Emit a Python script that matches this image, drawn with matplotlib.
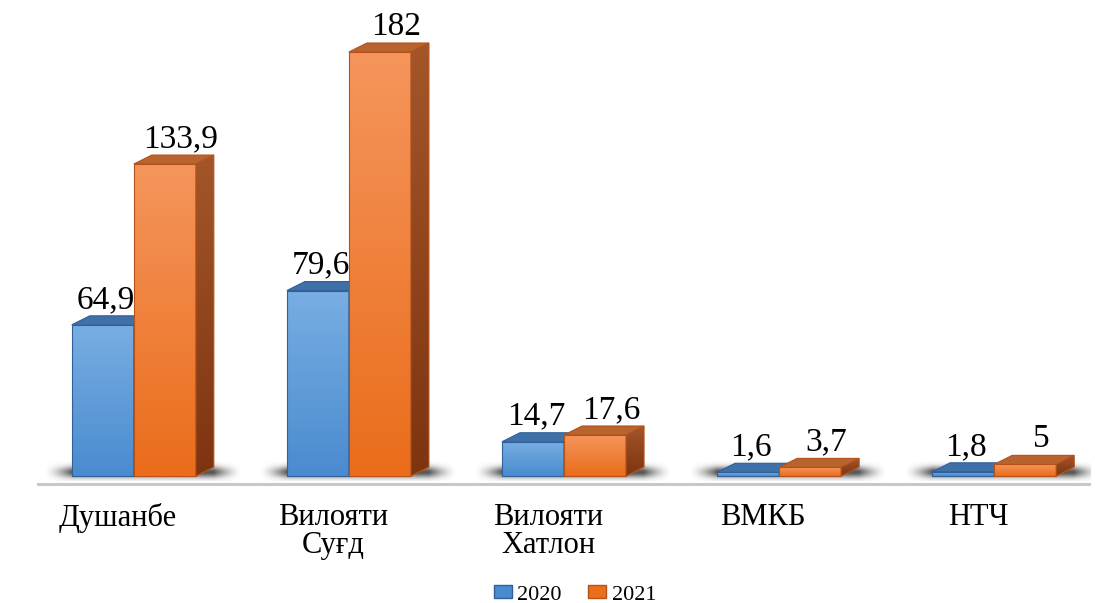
import numpy as np
import matplotlib.pyplot as plt
from matplotlib.patches import Polygon, Patch

categories = ['Душанбе', 'Вилояти\nСуғд', 'Вилояти\nХатлон', 'ВМКБ', 'НТЧ']
years = ['2020', '2021']
vals_2020 = [64.9, 79.6, 14.7, 1.6, 1.8]
vals_2021 = [133.9, 182, 17.6, 3.7, 5]
text_2020 = ['64,9', '79,6', '14,7', '1,6', '1,8']
text_2021 = ['133,9', '182', '17,6', '3,7', '5']

plt.rcParams['font.family'] = ['Liberation Serif', 'DejaVu Serif']

W, H = 1095, 603
fig = plt.figure(figsize=(W / 100, H / 100), dpi=100)
px_unit = 424 / 182          # pixels per value unit
ymin, ymax = -10, 476 / px_unit
ax_h = 476 + (-ymin) * px_unit
ax = fig.add_axes([37 / W, 1 - ax_h / H, 1054 / W, ax_h / H])
gx = 215                      # pixels per category

x = np.arange(len(categories))
bw = 62 / gx                  # bar width
dx = 18 / gx                  # box depth, x
dy = 9 / px_unit              # box depth, y


def gradient(poly, c1, c2, z):
    # fill a patch with a vertical linear gradient from c1 (top) to c2 (bottom)
    c1 = np.array(plt.matplotlib.colors.to_rgb(c1))
    c2 = np.array(plt.matplotlib.colors.to_rgb(c2))
    t = np.linspace(0, 1, 64)
    img = (c1[None, :] * (1 - t[:, None]) + c2[None, :] * t[:, None])[:, None, :]
    verts = poly.get_xy() if isinstance(poly, Polygon) else poly.get_bbox().get_points()
    verts = np.asarray(verts)
    x0, y0 = verts.min(axis=0)
    x1, y1 = verts.max(axis=0)
    im = ax.imshow(img, extent=(x0, x1, y0, y1), origin='upper', aspect='auto',
                   interpolation='bilinear', zorder=z)
    im.set_clip_path(poly)


def shadow(left, right):
    # soft floor shadow round the foot of a group
    ext = 0.13
    xs = np.linspace(left - ext, right + ext, 200)
    ys = np.linspace(-2, 7, 60)
    X, Y = np.meshgrid(xs, ys)
    d = np.maximum(np.maximum(left - X, X - right), 0) / ext
    fx = np.clip(1 - d, 0, 1) ** 1.5
    fy = np.exp(-((Y - 1.8) / 2.4) ** 2)
    rgba = np.zeros(X.shape + (4,))
    rgba[..., :3] = 0.12
    rgba[..., 3] = 0.75 * fx * fy
    ax.imshow(rgba, extent=(xs[0], xs[-1], ys[0], ys[-1]), origin='lower',
              aspect='auto', interpolation='bilinear', zorder=1)


styles = {
    '2020': dict(front=('#78aee2', '#4a8bcf'), top='#3f70a8', side=('#2f5f95', '#24497a'),
                 edge='#2f6099'),
    '2021': dict(front=('#f5955c', '#ea6d1b'), top='#b8642e', side=('#a4562a', '#7d3410'),
                 edge='#b4521a'),
}

for i in x:
    shadow(i - bw, i + bw + dx)

ax.axhline(-8 / px_unit, color='#c8c8c8', lw=2.2, zorder=0)

for k, (year, vals, txts, shift) in enumerate([('2020', vals_2020, text_2020, 3),
                                               ('2021', vals_2021, text_2021, 16)]):
    st = styles[year]
    z = 2 + k * 3
    bars = ax.bar(x + (k - 0.5) * bw, vals, width=bw, facecolor='none',
                  edgecolor=st['edge'], lw=0.8, zorder=z + 0.5)
    for b, txt in zip(bars, txts):
        x0, x1, h = b.get_x(), b.get_x() + b.get_width(), b.get_height()
        gradient(b, *st['front'], z)
        top = Polygon([(x0, h), (x0 + dx, h + dy), (x1 + dx, h + dy), (x1, h)],
                      closed=True, facecolor=st['top'], edgecolor=st['edge'], lw=0.8,
                      zorder=z + 1)
        ax.add_patch(top)
        side = Polygon([(x1, 0), (x1 + dx, dy), (x1 + dx, h + dy), (x1, h)],
                       closed=True, facecolor='none', edgecolor=st['edge'], lw=0.8,
                       zorder=z + 1.5)
        ax.add_patch(side)
        gradient(side, *st['side'], z + 1)
        ax.text((x0 + x1) / 2 + shift / gx, h + dy + 8 / px_unit, txt, ha='center',
                va='baseline', fontsize=24, color='black', zorder=10)

ax.set_xlim(-0.45, 4.45)
ax.set_ylim(ymin, ymax)
ax.set_xticks(x - 16 / gx)
ax.set_xticklabels(categories, fontsize=22, linespacing=0.92)
ax.tick_params(length=0, pad=3)
ax.set_yticks([])
for s in ax.spines.values():
    s.set_visible(False)
ax.patch.set_alpha(0)

handles = [Patch(facecolor='#4a8bcf', edgecolor='#2f6099'),
           Patch(facecolor='#eb6e1c', edgecolor='#b4521a')]
fig.legend(handles, years, loc='center', bbox_to_anchor=(575 / W, 1 - 595 / H), ncol=2,
           frameon=False, fontsize=16, handlelength=0.8, handleheight=0.5,
           handletextpad=0.25, columnspacing=1.2, borderpad=0)

fig.savefig('out.png', dpi=100)
